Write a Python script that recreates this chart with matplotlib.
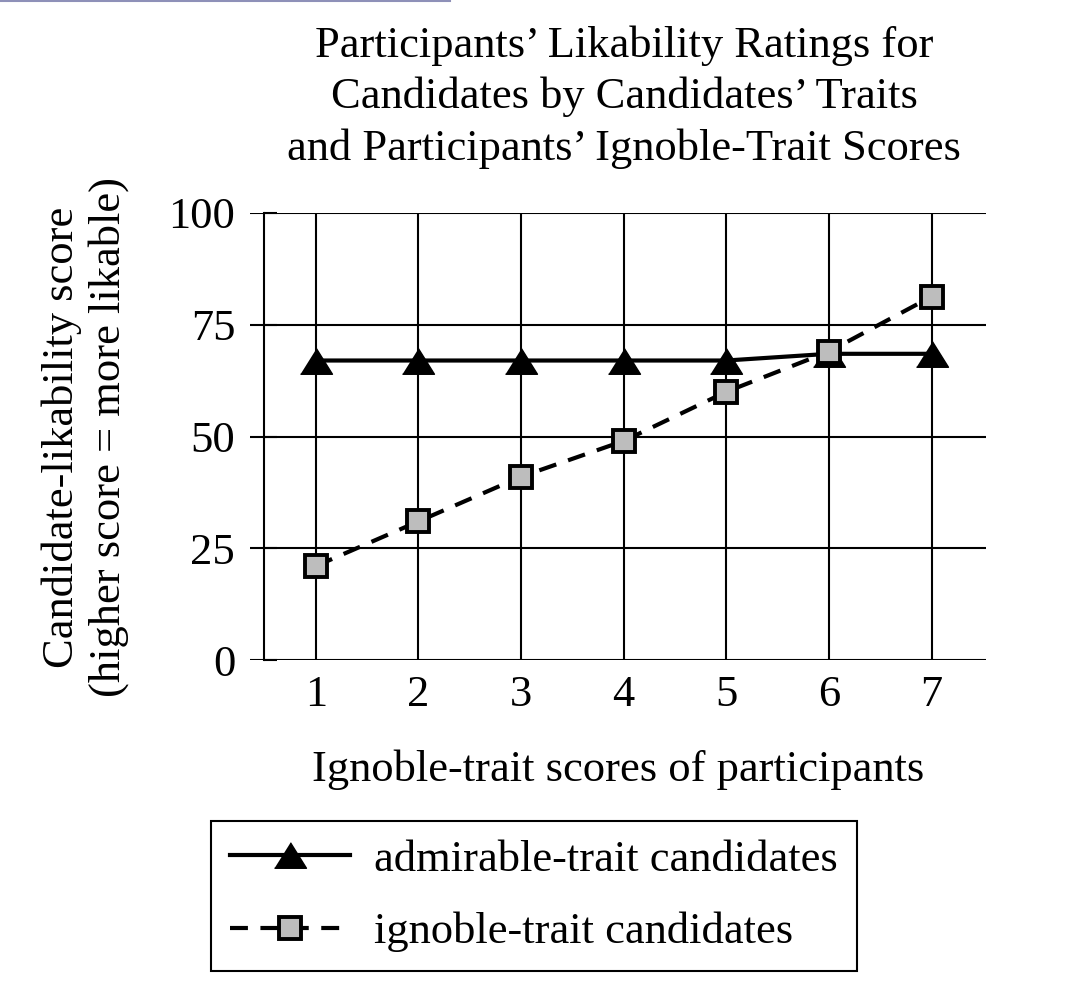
import numpy as np
import matplotlib.pyplot as plt
from matplotlib.lines import Line2D

# ignoble-trait score of participants (x axis)
scores = [1, 2, 3, 4, 5, 6, 7]
# candidate-likability scores
admirable = [67, 67, 67, 67, 67, 68.5, 68.5]
ignoble = [21, 31, 41, 49, 60, 69, 81.3]
yticks = [0, 25, 50, 75, 100]

title = "Participants\u2019 Likability Ratings for\nCandidates by Candidates\u2019 Traits\nand Participants\u2019 Ignoble-Trait Scores"
xlab = "Ignoble-trait scores of participants"
ylab = "Candidate-likability score\n(higher score = more likable)"
labels = ["admirable-trait candidates", "ignoble-trait candidates"]

plt.rcParams['font.family'] = ['Liberation Serif', 'DejaVu Serif']
FS = 32

fig = plt.figure(figsize=(10.92, 9.92), dpi=100)
ax = fig.add_axes([250 / 1092, 1 - 660 / 992, 736 / 1092, 447 / 992])

tri = [(-1, -0.8), (1, -0.8), (0, 0.8)]
ax.plot(scores, admirable, color='black', lw=3, marker=tri, ms=23,
        mfc='black', mec='black', label=labels[0], zorder=3)
ax.plot(scores, ignoble, color='black', lw=3, ls=(0, (4.3, 3)), marker='s',
        ms=16, mfc='#bdbdbd', mec='black', mew=2.8, label=labels[1], zorder=4)

ax.set_xlim(0.36, 7.53)
ax.set_ylim(0, 100)
ax.set_xticks(scores)
ax.set_yticks(yticks)
ax.grid(True, color='black', lw=1.5)
ax.set_axisbelow(True)

for s in ['top', 'right', 'bottom']:
    ax.spines[s].set_visible(False)
ax.spines['left'].set_position(('data', 0.5))
ax.spines['left'].set_linewidth(1.5)
ax.tick_params(axis='y', direction='in', length=9, width=1.5, pad=21,
               labelsize=FS)
ax.tick_params(axis='x', length=0, pad=11, labelsize=FS)

ax.set_xlabel(xlab, fontsize=FS, labelpad=25)
fig.text(85 / 1092, 1 - 437 / 992, ylab, rotation=90, ha='center',
         va='center', fontsize=FS, linespacing=1.2)
fig.text(624 / 1092, 1 - 97 / 992, title, ha='center', va='center',
         fontsize=FS, linespacing=1.35)

leg = fig.legend(loc='center', bbox_to_anchor=(534 / 1092, 1 - 896 / 992),
                 fontsize=FS, frameon=True, fancybox=False, edgecolor='black',
                 framealpha=1, handlelength=2.7, handletextpad=0.55,
                 labelspacing=0.72, borderpad=0.42, borderaxespad=0)
leg.get_frame().set_linewidth(1.5)

# thin stray line along the top edge of the original screenshot
fig.add_artist(Line2D([0, 450 / 1092], [0.999, 0.999], color='#8e90b8', lw=1.5))

fig.savefig('out.png', dpi=100)
